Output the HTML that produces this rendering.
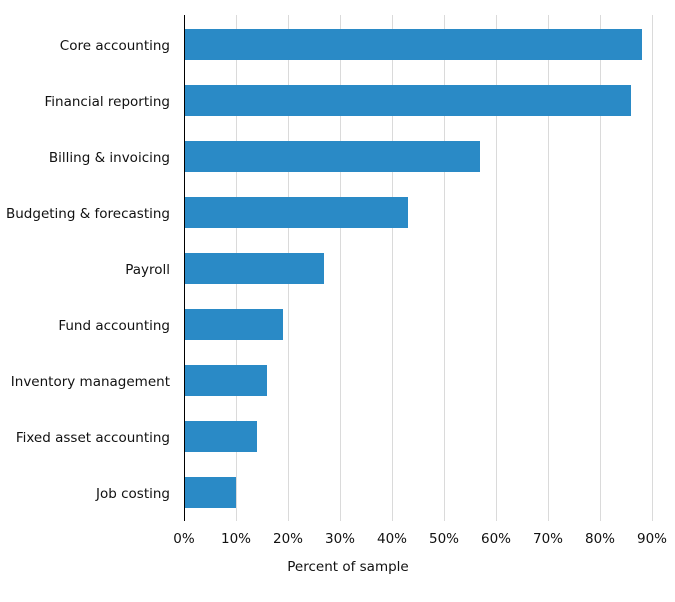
<!DOCTYPE html>
<html><head><style>body{margin:0;background:#fff}</style></head><body>
<svg width="675" height="597" xmlns="http://www.w3.org/2000/svg" font-family="DejaVu Sans, sans-serif" font-size="13.5" fill="#111">
<g stroke="#dadada" stroke-width="1">
<line x1="236.5" y1="15" x2="236.5" y2="521"/><line x1="288.5" y1="15" x2="288.5" y2="521"/>
<line x1="340.5" y1="15" x2="340.5" y2="521"/><line x1="392.5" y1="15" x2="392.5" y2="521"/>
<line x1="444.5" y1="15" x2="444.5" y2="521"/><line x1="496.5" y1="15" x2="496.5" y2="521"/>
<line x1="548.5" y1="15" x2="548.5" y2="521"/><line x1="600.5" y1="15" x2="600.5" y2="521"/>
<line x1="652.5" y1="15" x2="652.5" y2="521"/>
</g>
<g fill="#2a8ac6">
<rect x="184" y="29" width="458" height="31"/>
<rect x="184" y="85" width="447" height="31"/>
<rect x="184" y="141" width="296" height="31"/>
<rect x="184" y="197" width="224" height="31"/>
<rect x="184" y="253" width="140" height="31"/>
<rect x="184" y="309" width="99" height="31"/>
<rect x="184" y="365" width="83" height="31"/>
<rect x="184" y="421" width="73" height="31"/>
<rect x="184" y="477" width="52" height="31"/>
</g>
<line x1="184.5" y1="15" x2="184.5" y2="521" stroke="#000"/>
<g text-anchor="end">
<text x="170" y="50">Core accounting</text>
<text x="170" y="106">Financial reporting</text>
<text x="170" y="162">Billing &amp; invoicing</text>
<text x="170" y="218">Budgeting &amp; forecasting</text>
<text x="170" y="274">Payroll</text>
<text x="170" y="330">Fund accounting</text>
<text x="170" y="386">Inventory management</text>
<text x="170" y="442">Fixed asset accounting</text>
<text x="170" y="498">Job costing</text>
</g>
<g text-anchor="middle">
<text x="184" y="543">0%</text><text x="236" y="543">10%</text><text x="288" y="543">20%</text>
<text x="340" y="543">30%</text><text x="392" y="543">40%</text><text x="444" y="543">50%</text>
<text x="496" y="543">60%</text><text x="548" y="543">70%</text><text x="600" y="543">80%</text>
<text x="652" y="543">90%</text>
<text x="348" y="571">Percent of sample</text>
</g>
</svg>
</body></html>
